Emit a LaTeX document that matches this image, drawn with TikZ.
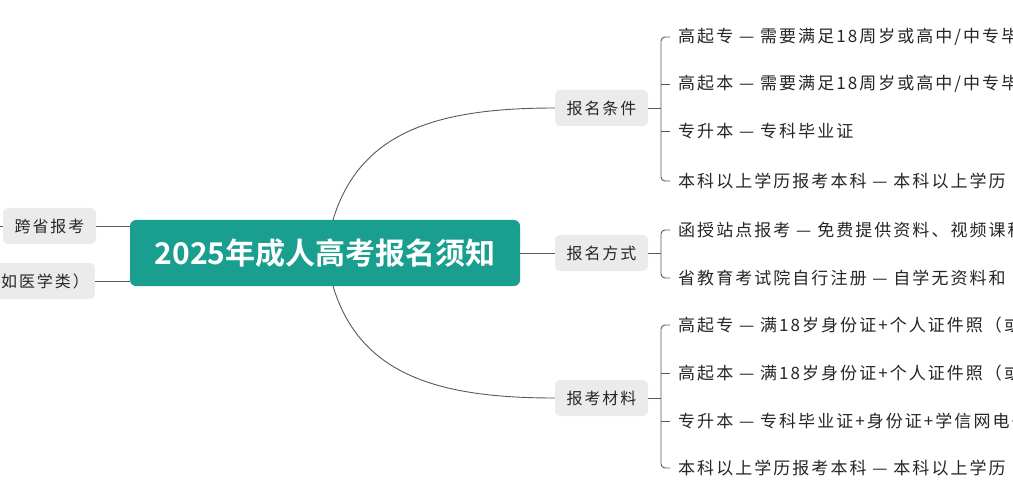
\documentclass[tikz,border=0pt]{standalone}
\usepackage{fontspec}
\newfontfamily\cjk{Noto Sans CJK SC}[LetterSpace=12]
\newfontfamily\cjkb{Noto Sans CJK SC Bold}
\definecolor{tealc}{HTML}{1A9E8F}
\begin{document}
\begin{tikzpicture}[x=1pt,y=-1pt,
  sub/.style={fill=black!8,rounded corners=5pt,minimum height=36pt,inner xsep=6pt,font=\cjk\fontsize{16}{16}\selectfont,text=black!85},
  leaf/.style={anchor=west,inner sep=0pt,font=\cjk\fontsize{17}{17}\selectfont,text=black!85},
  ln/.style={draw=black!65,line width=0.9pt}]
\useasboundingbox (0,0) rectangle (1013,500);
\clip (0,0) rectangle (1013,500);
\fill[white] (0,0) rectangle (1013,500);
\node[fill=tealc,rounded corners=6pt,minimum width=390pt,minimum height=66pt,text=white,font=\cjkb\fontsize{30}{30}\selectfont] (c) at (325,253) {2025年成人高考报名须知};
\node[sub,minimum width=93pt] (l1) at (49.5,226) {跨省报考};
\node[sub,anchor=east] (l2) at (95,281) {（如医学类）};
\coordinate (l0) at (-5,226);
\draw[ln] (l0) -- (l1.west);
\draw[ln] (l1.east) -- (c.west |- l1);
\draw[ln] (l2.east) -- (c.west |- l2);
\node[sub,minimum width=93pt] (r1) at (601.5,108) {报名条件};
\node[sub,minimum width=93pt] (r2) at (601.5,253) {报名方式};
\node[sub,minimum width=93pt] (r3) at (601.5,398) {报考材料};
\coordinate (ct) at (333,220);
\coordinate (cb) at (333,286);
\draw[ln] (ct) .. controls (360,130) and (440,108) .. (r1.west);
\draw[ln] (cb) .. controls (360,376) and (440,398) .. (r3.west);
\draw[ln] (c.east) -- (r2.west);
\draw[ln] (648,108) -- (661,108);
\draw[ln] (648,253) -- (661,253);
\draw[ln] (648,398) -- (661,398);
\draw[ln,rounded corners=4pt] (670,37) -- (661,37) -- (661,181) -- (670,181);
\draw[ln] (661,84) -- (670,84); \draw[ln] (661,131) -- (670,131);
\draw[ln,rounded corners=4pt] (670,230) -- (661,230) -- (661,278) -- (670,278);
\draw[ln,rounded corners=4pt] (670,325) -- (661,325) -- (661,468) -- (670,468);
\draw[ln] (661,373) -- (670,373); \draw[ln] (661,421) -- (670,421);
\node[leaf] (a1) at (678,37) {高起专 — 需要满足18周岁或高中/中专毕业};
\node[leaf] (a2) at (678,84) {高起本 — 需要满足18周岁或高中/中专毕业};
\node[leaf] (a3) at (678,131) {专升本 — 专科毕业证};
\node[leaf] (a4) at (678,181) {本科以上学历报考本科 — 本科以上学历};
\node[leaf] (b1) at (678,230) {函授站点报考 — 免费提供资料、视频课程};
\node[leaf] (b2) at (678,278) {省教育考试院自行注册 — 自学无资料和};
\node[leaf] (d1) at (678,325) {高起专 — 满18岁身份证+个人证件照（或};
\node[leaf] (d2) at (678,373) {高起本 — 满18岁身份证+个人证件照（或};
\node[leaf] (d3) at (678,421) {专升本 — 专科毕业证+身份证+学信网电子};
\node[leaf] (d4) at (678,468) {本科以上学历报考本科 — 本科以上学历};
\end{tikzpicture}
\end{document}
